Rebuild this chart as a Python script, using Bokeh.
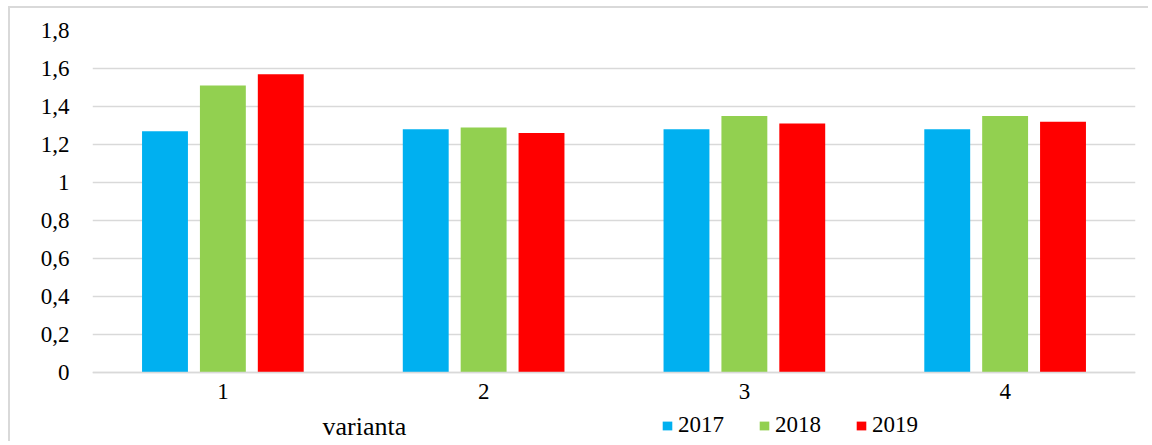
from bokeh.plotting import figure
from bokeh.models import (ColumnDataSource, Range1d, FixedTicker, Legend, LegendItem, Label, Span)
from bokeh.core.properties import value
from bokeh.transform import dodge
from bokeh.embed import file_html
from bokeh.resources import INLINE

# ---- data ----
categories = [1, 2, 3, 4]
years = ["2017", "2018", "2019"]
v2017 = [1.27, 1.28, 1.28, 1.28]
v2018 = [1.51, 1.29, 1.35, 1.35]
v2019 = [1.57, 1.26, 1.31, 1.32]
y_ticks = [0, 0.2, 0.4, 0.6, 0.8, 1, 1.2, 1.4, 1.6, 1.8]
y_tick_labels = ["0", "0,2", "0,4", "0,6", "0,8", "1", "1,2", "1,4", "1,6", "1,8"]
x_tick_labels = ["1", "2", "3", "4"]
x_title = "varianta"

colors = ["#00B0F0", "#92D050", "#FF0000"]
FONT = "'Liberation Serif', 'Times New Roman', serif"
FS = "23px"

src = ColumnDataSource(dict(cat=categories, y2017=v2017, y2018=v2018, y2019=v2019,
                            base=[0] * len(categories), lab=x_tick_labels))

p = figure(width=1140, height=435, output_backend="svg", toolbar_location=None,
           x_range=Range1d(0.5, 4.5), y_range=Range1d(-0.3737, 1.8),
           min_border_left=82, min_border_right=15, min_border_top=22, min_border_bottom=0)
p.outline_line_color = None
p.background_fill_color = "white"
p.border_fill_color = "white"
p.styles = {"margin-left": "8px", "margin-top": "6px",
            "border-left": "2px solid #d9d9d9", "border-top": "2px solid #d9d9d9"}

offsets = [-0.222, 0.0, 0.222]
cols = ["y2017", "y2018", "y2019"]
renderers = []
for off, col, c in zip(offsets, cols, colors):
    r = p.vbar(x=dodge("cat", off), top=col, width=0.176, source=src,
               fill_color=c, line_color=None)
    renderers.append(r)

# category axis drawn inside the frame
p.xaxis.visible = False
p.add_layout(Span(location=0, dimension="width", line_color="#d9d9d9", line_width=1.5))
p.text(x="cat", y="base", text="lab", source=src, text_font=value(FONT),
       text_font_size=FS, text_align="center", text_baseline="middle",
       y_offset=19, text_color="black")

p.yaxis.ticker = FixedTicker(ticks=y_ticks)
p.yaxis.major_label_overrides = {t: l for t, l in zip(y_ticks, y_tick_labels)}
p.yaxis.major_tick_line_color = None
p.yaxis.minor_tick_line_color = None
p.yaxis.axis_line_color = None
p.yaxis.major_label_text_font = FONT
p.yaxis.major_label_text_font_size = FS
p.yaxis.major_label_text_color = "black"
p.yaxis.major_label_standoff = 17

p.xgrid.grid_line_color = None
p.ygrid.grid_line_color = "#d9d9d9"
p.ygrid.grid_line_width = 1.5

# x title
lab = Label(x=1.382, y=-0.284, text=x_title, text_font=FONT, text_font_size="26px",
            text_align="left", text_baseline="middle", text_color="black")
p.add_layout(lab)

# legend
legend = Legend(items=[LegendItem(label=y, renderers=[r]) for y, r in zip(years, renderers)],
                orientation="horizontal", location=(569, 5),
                glyph_width=12, glyph_height=11, label_standoff=5, spacing=34,
                padding=0, margin=0, border_line_color=None, background_fill_alpha=0,
                label_text_font=FONT, label_text_font_size=FS, label_text_color="black")
p.add_layout(legend, "center")

open("out.html", "w").write(file_html(p, INLINE))
